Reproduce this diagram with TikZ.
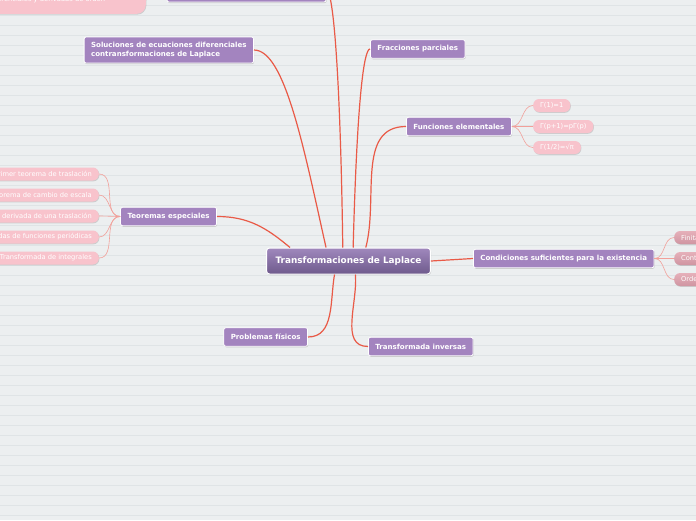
\documentclass[tikz,border=0pt]{standalone}
\usepackage{fontspec}
\setmainfont{DejaVu Sans}
\usetikzlibrary{shadows}

\definecolor{paper}{HTML}{ECEFF0}
\definecolor{rule}{HTML}{DFE4E6}
\definecolor{lapA}{HTML}{A088BD}
\definecolor{lapB}{HTML}{6E5A8C}
\definecolor{topicfill}{HTML}{A384BF}
\definecolor{leaffill}{HTML}{F8C3CC}
\definecolor{leafA}{HTML}{E6B0BA}
\definecolor{leafB}{HTML}{CF95A1}
\definecolor{branchline}{HTML}{E95A47}
\definecolor{twigline}{HTML}{F2A09A}

\begin{document}
\begin{tikzpicture}[x=1pt,y=-1pt,
  mainbox/.style={draw=white, line width=1pt, rounded corners=3pt,
    top color=lapA, bottom color=lapB, text=white,
    font=\fontsize{8.9}{10}\selectfont\bfseries, inner xsep=9pt,
    minimum height=26pt,
    drop shadow={shadow xshift=0.6pt, shadow yshift=-1pt, opacity=0.35}},
  topic/.style={draw=white, line width=0.8pt, rounded corners=2pt,
    fill=topicfill, text=white, font=\fontsize{7.05}{9}\selectfont\bfseries,
    inner xsep=7pt, minimum height=18.5pt,
    drop shadow={shadow xshift=0.6pt, shadow yshift=-1pt, opacity=0.35}},
  leaf/.style={fill=leaffill, rounded corners=6pt, text=white,
    font=\fontsize{6.7}{8}\selectfont, inner xsep=7pt, inner ysep=1pt,
    minimum height=13pt,
    drop shadow={shadow xshift=0.5pt, shadow yshift=-0.8pt, opacity=0.3}},
  darkleaf/.style={leaf, fill=none, top color=leafA, bottom color=leafB},
  branch/.style={draw=branchline, line width=1.2pt},
  twig/.style={draw=twigline, line width=0.6pt}]

\useasboundingbox (0,0) rectangle (696,520);
\clip (0,0) rectangle (696,520);

% ruled paper
\fill[paper] (0,0) rectangle (696,520);
\foreach \y in {5,15,...,515}
  \draw[rule, line width=0.6pt] (0,\y) -- (696,\y);

% centre
\node[mainbox] (lap) at (348.5,261) {Transformaciones de Laplace};

% main topics
\node[topic, minimum width=159pt, minimum height=24pt] (top) at (246.5,-10) {};
\node[topic, align=left, minimum height=26pt, anchor=east] (sol) at (254,50)
  {Soluciones de ecuaciones diferenciales\\contransformaciones de Laplace};
\node[topic, anchor=west] (frac) at (370,49) {Fracciones parciales};
\node[topic, anchor=west] (func) at (406,126.5) {Funciones elementales};
\node[topic, anchor=east] (teo) at (217,216.5) {Teoremas especiales};
\node[topic, anchor=west] (cond) at (473,258.5) {Condiciones suficientes para la existencia};
\node[topic, anchor=east] (prob) at (308,337) {Problemas físicos};
\node[topic, anchor=west] (inv) at (368,346.5) {Transformada inversas};

% leaves
\node[leaf, rounded corners=9pt, minimum height=28pt, text width=150pt,
  align=left, anchor=south east] (pk) at (146,14)
  {diferenciales y derivadas de orden};

\node[leaf, anchor=west] (g1) at (533,105.5) {Γ(1)=1};
\node[leaf, anchor=west] (g2) at (533,126.5) {Γ(p+1)=pΓ(p)};
\node[leaf, anchor=west] (g3) at (533,147.5) {Γ(1/2)=√π};

\node[leaf, anchor=east] (t1) at (99,174) {Primer teorema de traslación};
\node[leaf, anchor=east] (t2) at (99,195) {Teorema de cambio de escala};
\node[leaf, anchor=east] (t3) at (99,216) {Transformada de la derivada de una traslación};
\node[leaf, anchor=east] (t4) at (99,237) {Transformadas de funciones periódicas};
\node[leaf, anchor=east] (t5) at (99,258) {Transformada de integrales};

\node[darkleaf, anchor=west] (c1) at (674,237.5) {Finita};
\node[darkleaf, anchor=west] (c2) at (674,258.5) {Continua por tramos};
\node[darkleaf, anchor=west] (c3) at (674,279.5) {Orden exponencial};

% branches
\draw[branch] (sol.east) .. controls +(31,0) and +(-22,-98) .. (lap.149);
\draw[branch] (top.east) .. controls +(8,0) and +(-2,-150) .. (lap.113);
\draw[branch] (frac.west) .. controls +(-6,0) and +(4,-150) .. (lap.71);
\draw[branch] (func.west) to[out=180,in=75] (lap.38);
\draw[branch] (teo.east) to[out=0,in=140] (lap.167);
\draw[branch] (lap.east) -- (cond.west);
\draw[branch] (prob.east) to[out=0,in=-100] (lap.-136);
\draw[branch] (inv.west) to[out=180,in=-85] (lap.-63);

% twigs
\draw[twig] (pk.east) to[out=0,in=180] (top.west);
\foreach \g in {g1,g2,g3}
  \draw[twig] (func.east) to[out=0,in=180] (\g.west);
\foreach \t in {t1,t2,t3,t4,t5}
  \draw[twig] (teo.west) to[out=180,in=0] (\t.east);
\foreach \c in {c1,c2,c3}
  \draw[twig] (cond.east) to[out=0,in=180] (\c.west);

\end{tikzpicture}
\end{document}
